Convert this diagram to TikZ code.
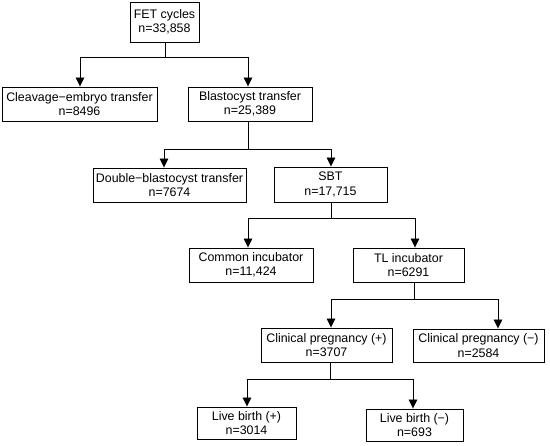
\documentclass[tikz,border=0pt]{standalone}
\usepackage{fontspec}
\setmainfont{Liberation Sans}
\usetikzlibrary{arrows.meta}

\begin{document}
\begin{tikzpicture}[x=1pt, y=-1pt, >={Triangle[length=9pt,width=8.5pt]},
  box/.style={draw, line width=0.9pt, align=center, inner sep=0pt, minimum height=34pt, font=\fontsize{12.4}{14.5}\selectfont},
  arr/.style={->, line width=0.9pt},
  link/.style={line width=0.9pt} ]

\useasboundingbox (0,0) rectangle (550,446);

% boxes
\node[box, minimum width=69pt, minimum height=40pt] (fet) at (164.5,22) {FET cycles\\n=33,858};
\node[box, minimum width=155pt] (cleav) at (79.5,104) {Cleavage−embryo transfer\\n=8496};
\node[box, minimum width=124pt] (blast) at (250,104) {Blastocyst transfer\\n=25,389};
\node[box, minimum width=153pt] (dbt) at (169.5,185) {Double−blastocyst transfer\\n=7674};
\node[box, minimum width=113pt, minimum height=35pt] (sbt) at (330.5,184.5) {SBT\\n=17,715};
\node[box, minimum width=124pt] (common) at (251,265) {Common incubator\\n=11,424};
\node[box, minimum width=111pt] (tl) at (408.5,265) {TL incubator\\n=6291};
\node[box, minimum width=131pt] (cpos) at (326.5,345) {Clinical pregnancy (+)\\n=3707};
\node[box, minimum width=131pt, minimum height=33pt] (cneg) at (478.5,345.5) {Clinical pregnancy (−)\\n=2584};
\node[box, minimum width=99pt, minimum height=32pt] (lpos) at (246.5,423) {Live birth (+)\\n=3014};
\node[box, minimum width=97pt, minimum height=32pt] (lneg) at (414.5,425) {Live birth (−)\\n=693};

% branch points
\coordinate (b1) at (165,57);
\coordinate (b2) at (248,149);
\coordinate (b3) at (331,218);
\coordinate (b4) at (414.5,299);
\coordinate (b5) at (330,379);

\draw[link] (fet.south -| b1) -- (b1);
\draw[arr] (b1) -| ([xshift=0.5pt]cleav.north);
\draw[arr] (b1) -| ([xshift=-2pt]blast.north);

\draw[link] (blast.south -| b2) -- (b2);
\draw[arr] (b2) -| ([xshift=-5.5pt]dbt.north);
\draw[arr] (b2) -| ([xshift=0.5pt]sbt.north);

\draw[link] (sbt.south -| b3) -- (b3);
\draw[arr] (b3) -| ([xshift=-3pt]common.north);
\draw[arr] (b3) -| ([xshift=6.5pt]tl.north);

\draw[link] (tl.south -| b4) -- (b4);
\draw[arr] (b4) -| ([xshift=4.5pt]cpos.north);
\draw[arr] (b4) -| ([xshift=19.5pt]cneg.north);

\draw[link] (cpos.south -| b5) -- (b5);
\draw[arr] (b5) -| ([xshift=0.5pt]lpos.north);
\draw[arr] (b5) -| ([xshift=-1.5pt]lneg.north);

\end{tikzpicture}
\end{document}
